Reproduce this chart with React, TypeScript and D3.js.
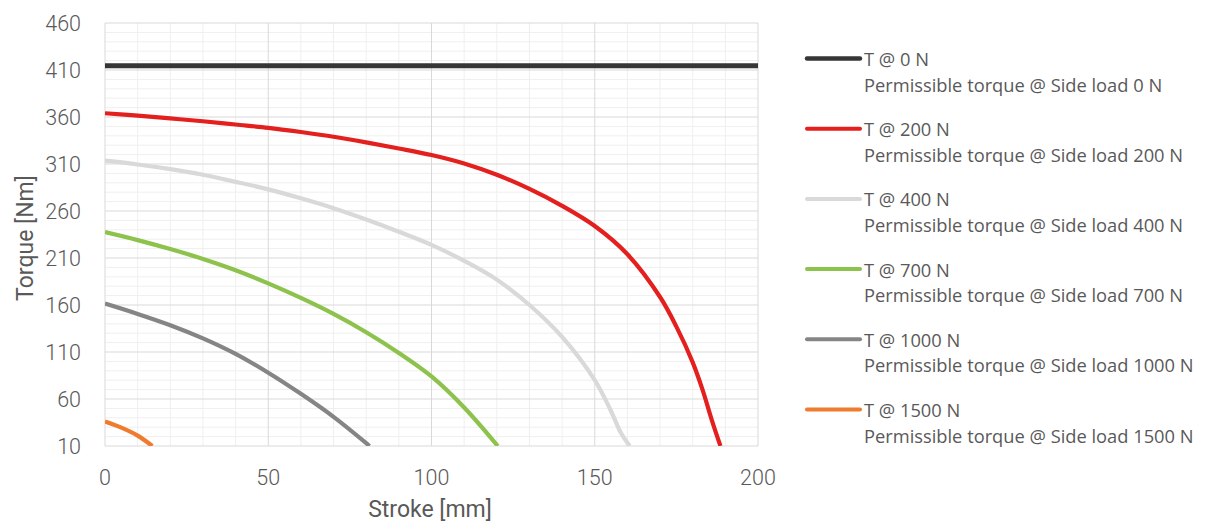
import React from "react";
import * as d3 from "d3";

const strokeT0 = [0, 200];
const torqueT0 = [414.5, 414.5];

const stroke200 = [0, 10, 20, 30, 40, 50, 60, 70, 80, 90, 100, 110, 120, 130, 140, 150, 160, 170, 175, 180, 183, 186, 188.5];
const torque200 = [364, 361.5, 358.5, 355.5, 352, 348.5, 344, 339, 333, 326.5, 319.5, 310.5, 298.5, 283.5, 265.5, 244, 214, 168.5, 137, 99, 70, 36, 10];

const stroke400 = [0, 10, 20, 30, 40, 50, 60, 70, 80, 90, 100, 110, 120, 130, 140, 150, 155, 158, 160.7];
const torque400 = [313.5, 309.5, 304.5, 298.5, 291, 283, 273.5, 263, 251, 238, 224, 207, 187, 160, 126, 80, 47, 24, 10];

const stroke700 = [0, 10, 20, 30, 40, 50, 60, 70, 80, 90, 100, 110, 120.3];
const torque700 = [237.5, 229, 219.5, 209, 197, 183, 167.5, 150.5, 131, 109, 84, 51, 10];

const stroke1000 = [0, 10, 20, 30, 40, 50, 60, 70, 80, 81];
const torque1000 = [161.5, 150.5, 138.5, 124.5, 108, 88, 65.5, 41, 13, 10];

const stroke1500 = [0, 5, 10, 14.5];
const torque1500 = [36, 29.5, 21, 10];

const seriesNames = ["T @ 0 N", "T @ 200 N", "T @ 400 N", "T @ 700 N", "T @ 1000 N", "T @ 1500 N"];
const seriesDescriptions = [
  "Permissible torque @ Side load 0 N",
  "Permissible torque @ Side load 200 N",
  "Permissible torque @ Side load 400 N",
  "Permissible torque @ Side load 700 N",
  "Permissible torque @ Side load 1000 N",
  "Permissible torque @ Side load 1500 N",
];
const seriesColors = ["#363636", "#e3201e", "#d9d9d9", "#8dc24c", "#858585", "#ef7b2f"];
const seriesX = [strokeT0, stroke200, stroke400, stroke700, stroke1000, stroke1500];
const seriesY = [torqueT0, torque200, torque400, torque700, torque1000, torque1500];

const yTicks = [10, 60, 110, 160, 210, 260, 310, 360, 410, 460];
const xTicks = [0, 50, 100, 150, 200];

const W = 1205;
const H = 524;
const M = { left: 105, top: 23, right: 758, bottom: 446 };

export default function App() {
  const x = d3.scaleLinear().domain([0, 200]).range([M.left, M.right]);
  const y = d3.scaleLinear().domain([10, 460]).range([M.bottom, M.top]);
  const line = d3
    .line<[number, number]>()
    .x((d) => x(d[0]))
    .y((d) => y(d[1]))
    .curve(d3.curveCatmullRom.alpha(0.5));

  const minorX = d3.range(0, 201, 10).filter((v) => v % 50 !== 0);
  const minorY = d3.range(10, 461, 10).filter((v) => (v - 10) % 50 !== 0);
  const tickFont = "Roboto, 'DejaVu Sans', sans-serif";
  const legendFont = "'Open Sans', 'Noto Sans', sans-serif";
  const textColor = "#595959";

  return (
    <svg width={W} height={H} style={{ position: "absolute", left: 0, top: 0, background: "#fff" }}>
      <defs>
        <clipPath id="plotclip">
          <rect x={M.left} y={M.top - 4} width={M.right - M.left + 2} height={M.bottom - M.top + 4} />
        </clipPath>
      </defs>
      <g>
        {minorY.map((v) => (
          <line key={"my" + v} x1={M.left} x2={M.right} y1={y(v)} y2={y(v)} stroke="#efefef" strokeWidth={1} />
        ))}
        {minorX.map((v) => (
          <line key={"mx" + v} x1={x(v)} x2={x(v)} y1={M.top} y2={M.bottom} stroke="#efefef" strokeWidth={1} />
        ))}
        {yTicks.map((v) => (
          <line key={"gy" + v} x1={M.left} x2={M.right} y1={y(v)} y2={y(v)} stroke="#d9d9d9" strokeWidth={1} />
        ))}
        {xTicks.map((v) => (
          <line key={"gx" + v} x1={x(v)} x2={x(v)} y1={M.top} y2={M.bottom} stroke="#d9d9d9" strokeWidth={1} />
        ))}
      </g>
      <g clipPath="url(#plotclip)">
        {seriesX.map((xs, i) => {
          const pts = xs.map((v, j) => [v, seriesY[i][j]] as [number, number]);
          return (
            <path
              key={"s" + i}
              d={line(pts) || ""}
              fill="none"
              stroke={seriesColors[i]}
              strokeWidth={i === 0 ? 5 : 4.2}
              strokeLinejoin="round"
            />
          );
        })}
      </g>
      <g fontFamily={tickFont} fontWeight={300} fontSize={21.5} fill={textColor}>
        {yTicks.map((v) => (
          <text key={"ty" + v} x={81} y={y(v)} textAnchor="end" dominantBaseline="central">
            {v}
          </text>
        ))}
        {xTicks.map((v) => (
          <text key={"tx" + v} x={x(v)} y={477} textAnchor="middle" dominantBaseline="central">
            {v}
          </text>
        ))}
      </g>
      <text
        x={430}
        y={509}
        textAnchor="middle"
        dominantBaseline="central"
        fontFamily={tickFont}
        fontSize={23}
        fill={textColor}
      >
        Stroke [mm]
      </text>
      <text
        transform={`translate(25,238) rotate(-90)`}
        textAnchor="middle"
        dominantBaseline="central"
        fontFamily={tickFont}
        fontSize={23}
        fill={textColor}
      >
        Torque [Nm]
      </text>
      <g fontFamily={legendFont} fontSize={18.3} fill={textColor}>
        {seriesNames.map((n, i) => {
          const cy = 58.5 + i * 70.2;
          return (
            <g key={"l" + i}>
              <line x1={807} x2={860} y1={cy} y2={cy} stroke={seriesColors[i]} strokeWidth={i === 0 ? 4.5 : 4} strokeLinecap="round" />
              <text x={864} y={cy} dominantBaseline="central">
                {n}
              </text>
              <text x={864} y={cy + 25.5} dominantBaseline="central">
                {seriesDescriptions[i]}
              </text>
            </g>
          );
        })}
      </g>
    </svg>
  );
}
